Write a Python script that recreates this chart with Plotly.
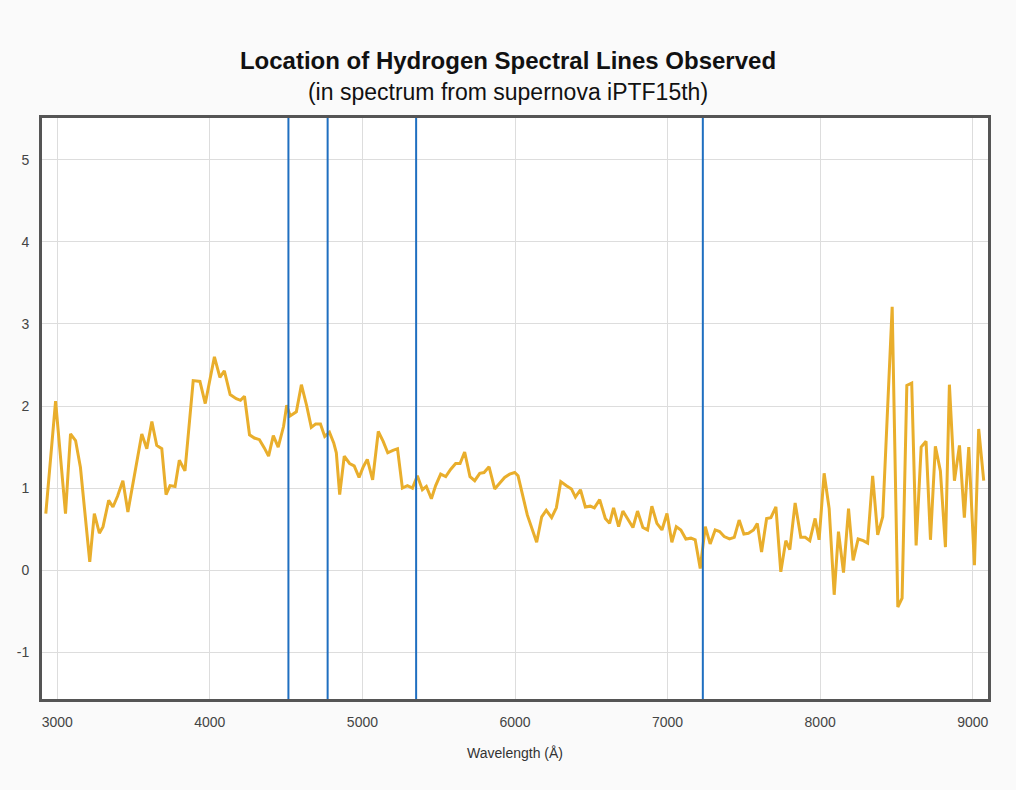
import plotly.graph_objects as go

# Spectrum of supernova iPTF15th: wavelength (Å) and relative flux
wavelength = [
    2925, 2989, 3054, 3087, 3120, 3152, 3213, 3243, 3276, 3300, 3337, 3365,
    3395, 3430, 3463, 3500, 3554, 3587, 3620, 3652, 3685, 3713, 3739, 3772,
    3800, 3837, 3891, 3935, 3970, 4030, 4066, 4095, 4133, 4173, 4201, 4227,
    4260, 4292, 4325, 4357, 4385, 4416, 4448, 4483, 4504, 4526, 4567, 4600,
    4634, 4665, 4693, 4725, 4753, 4784, 4812, 4829, 4851, 4881, 4916, 4946,
    4978, 5006, 5032, 5067, 5104, 5136, 5166, 5200, 5230, 5262, 5295, 5328,
    5360, 5393, 5419, 5452, 5480, 5513, 5546, 5579, 5611, 5640, 5670, 5705,
    5736, 5769, 5797, 5830, 5867, 5895, 5932, 5965, 5998, 6020, 6081, 6142,
    6175, 6205, 6240, 6271, 6300, 6337, 6370, 6396, 6429, 6461, 6493, 6520,
    6555, 6592, 6620, 6646, 6679, 6707, 6740, 6773, 6803, 6838, 6869, 6897,
    6930, 6963, 6996, 7028, 7057, 7087, 7120, 7153, 7181, 7214, 7247, 7279,
    7312, 7341, 7371, 7406, 7437, 7469, 7500, 7530, 7563, 7588, 7616, 7649,
    7677, 7710, 7742, 7775, 7801, 7836, 7873, 7902, 7932, 7967, 7993, 8026,
    8059, 8092, 8120, 8153, 8186, 8216, 8249, 8282, 8311, 8344, 8377, 8410,
    8472, 8509, 8537, 8568, 8600, 8629, 8662, 8694, 8723, 8755, 8788, 8821,
    8847, 8880, 8913, 8945, 8974, 9011, 9039, 9072,
]
flux = [
    0.69, 2.06, 0.69, 1.66, 1.58, 1.25, 0.10, 0.69, 0.45, 0.53, 0.85, 0.77,
    0.90, 1.09, 0.71, 1.09, 1.66, 1.48, 1.81, 1.52, 1.48, 0.92, 1.03, 1.02,
    1.34, 1.21, 2.31, 2.30, 2.03, 2.60, 2.35, 2.43, 2.14, 2.09, 2.07, 2.12,
    1.65, 1.61, 1.59, 1.49, 1.39, 1.64, 1.50, 1.75, 2.01, 1.88, 1.93, 2.26,
    2.01, 1.74, 1.78, 1.78, 1.63, 1.68, 1.55, 1.43, 0.92, 1.39, 1.30, 1.27,
    1.13, 1.26, 1.35, 1.10, 1.69, 1.57, 1.43, 1.46, 1.48, 1.00, 1.03, 1.00,
    1.15, 0.98, 1.02, 0.87, 1.03, 1.17, 1.14, 1.23, 1.30, 1.30, 1.44, 1.14,
    1.09, 1.18, 1.19, 1.26, 0.99, 1.05, 1.13, 1.17, 1.19, 1.15, 0.67, 0.34,
    0.65, 0.73, 0.64, 0.76, 1.08, 1.03, 0.99, 0.89, 0.98, 0.77, 0.78, 0.76,
    0.86, 0.63, 0.57, 0.76, 0.53, 0.72, 0.62, 0.52, 0.72, 0.52, 0.49, 0.78,
    0.57, 0.49, 0.69, 0.34, 0.53, 0.49, 0.38, 0.39, 0.37, 0.02, 0.53, 0.32,
    0.49, 0.47, 0.41, 0.38, 0.40, 0.61, 0.44, 0.45, 0.49, 0.57, 0.22, 0.63,
    0.64, 0.77, -0.02, 0.36, 0.25, 0.82, 0.40, 0.40, 0.36, 0.63, 0.37, 1.18,
    0.75, -0.30, 0.47, -0.03, 0.75, 0.12, 0.38, 0.36, 0.33, 1.15, 0.43, 0.65,
    3.21, -0.45, -0.34, 2.25, 2.28, 0.30, 1.50, 1.57, 0.37, 1.51, 1.21, 0.28,
    2.26, 1.09, 1.52, 0.64, 1.50, 0.06, 1.72, 1.09,
]

# Redshifted Balmer lines (Hδ, Hγ, Hβ, Hα)
hydrogen_lines = [4515, 4772, 5352, 7231]

x_ticks = [3000, 4000, 5000, 6000, 7000, 8000, 9000]
y_ticks = [-1, 0, 1, 2, 3, 4, 5]
y_tick_labels = ["-1", "0", "1", "2", "3", "4", "5"]

fig = go.Figure()

fig.add_trace(go.Scatter(
    x=wavelength, y=flux, mode="lines",
    line=dict(color="#E9AE2C", width=3),
    hoverinfo="x+y", showlegend=False,
))

for wl in hydrogen_lines:
    fig.add_shape(
        type="line", xref="x", yref="paper",
        x0=wl, x1=wl, y0=0, y1=1,
        line=dict(color="#1F6FC0", width=2),
    )

fig.update_layout(
    width=1016, height=790,
    margin=dict(l=42, r=28, t=118, b=91),
    paper_bgcolor="#FAFAFA",
    plot_bgcolor="#FFFFFF",
    font=dict(family="Liberation Sans, Arial, sans-serif", color="#444444", size=13),
    title=dict(
        text="<b>Location of Hydrogen Spectral Lines Observed</b><br>"
             "<span style='font-size:23px'>(in spectrum from supernova iPTF15th)</span>",
        x=0.5, xanchor="center", y=0.913, yanchor="top",
        font=dict(size=24, color="#111111"),
    ),
    xaxis=dict(
        range=[2900, 9100], tickvals=x_ticks,
        showgrid=True, gridcolor="#DDDDDD", gridwidth=1,
        zeroline=False, showline=True, mirror=True,
        linecolor="#555555", linewidth=3,
        ticks="", ticklabelstandoff=8,
        tickfont=dict(size=14, color="#444444"),
        title=dict(text="Wavelength (Å)", standoff=20,
                   font=dict(size=14, color="#333333")),
    ),
    yaxis=dict(
        range=[-1.57, 5.51], tickvals=y_ticks, ticktext=y_tick_labels,
        showgrid=True, gridcolor="#DDDDDD", gridwidth=1,
        zeroline=False, showline=True, mirror=True,
        linecolor="#555555", linewidth=3,
        ticks="", ticklabelstandoff=7,
        tickfont=dict(size=14, color="#444444"),
    ),
)

fig.write_html("out.html")
